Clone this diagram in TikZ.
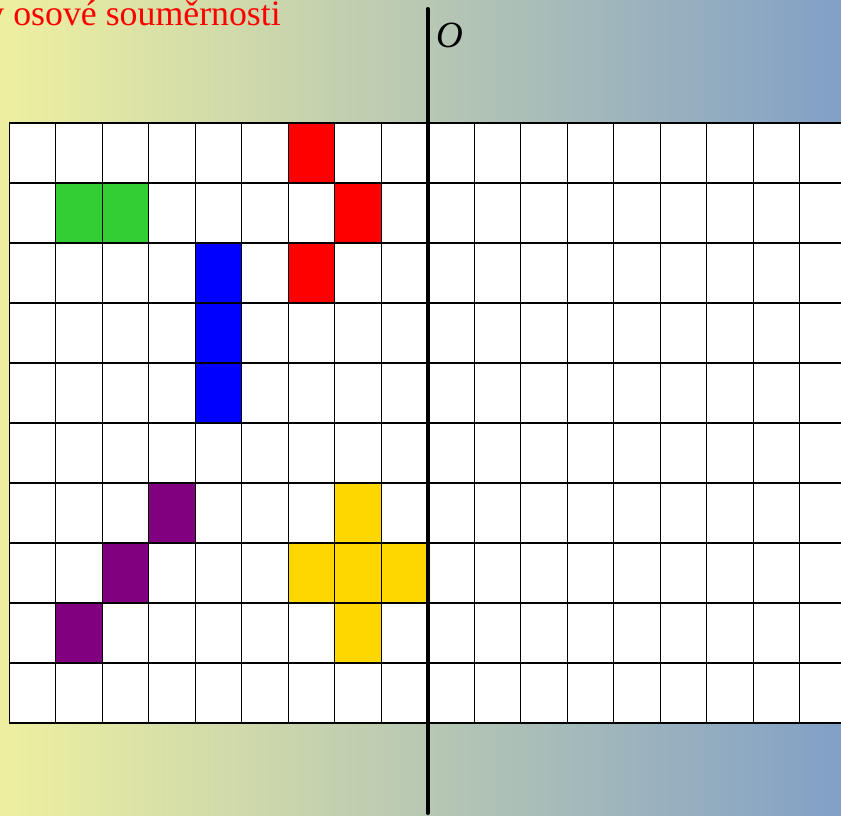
\documentclass[tikz,border=0pt]{standalone}
\usepackage{fontspec}
\setmainfont{Liberation Serif}
\definecolor{bgleft}{RGB}{238,240,160}
\definecolor{bgright}{RGB}{130,160,198}
\definecolor{cred}{RGB}{255,0,0}
\definecolor{cgreen}{RGB}{50,205,50}
\definecolor{cblue}{RGB}{0,0,255}
\definecolor{cpurple}{RGB}{128,0,128}
\definecolor{cyellow}{RGB}{255,215,0}
\begin{document}
\begin{tikzpicture}[x=1pt,y=-1pt,
  gridline/.style={line width=1.3pt,draw=black}]
\useasboundingbox (0,0) rectangle (841,816);
\clip (0,0) rectangle (841,816);
\shade[left color=bgleft,right color=bgright] (0,0) rectangle (841,816);
\def\cw{46.5}
\def\ch{60}
\def\gx{9.3}
\def\gy{123}
% white grid background
\fill[white] (\gx,\gy) rectangle (850,723);
% coloured cells
\foreach \c/\r/\col in {6/0/cred,1/1/cgreen,2/1/cgreen,7/1/cred,4/2/cblue,6/2/cred,4/3/cblue,4/4/cblue,
  3/6/cpurple,7/6/cyellow,2/7/cpurple,6/7/cyellow,7/7/cyellow,8/7/cyellow,1/8/cpurple,7/8/cyellow}
  \fill[\col] ({\gx+\c*\cw},{\gy+\r*\ch}) rectangle ({\gx+(\c+1)*\cw},{\gy+(\r+1)*\ch});
% grid lines
\foreach \c in {0,...,18}
  \draw[gridline] ({\gx+\c*\cw},\gy) -- ({\gx+\c*\cw},723);
\foreach \r in {0,...,10}
  \draw[gridline] (\gx,{\gy+\r*\ch}) -- (850,{\gy+\r*\ch});
% axis
\coordinate (axtop) at (427.5,9);
\coordinate (axbot) at (427.5,813);
\draw[line width=4pt,line cap=round] (axtop) -- (axbot);
\node[font=\fontsize{37}{42}\selectfont\itshape,anchor=center] (olabel) at (449.5,35) {O};
\node[font=\fontsize{35.8}{40}\selectfont,text=cred,anchor=base east,inner sep=0pt] (title) at (281,26) {Příklady osové souměrnosti};
\end{tikzpicture}
\end{document}
